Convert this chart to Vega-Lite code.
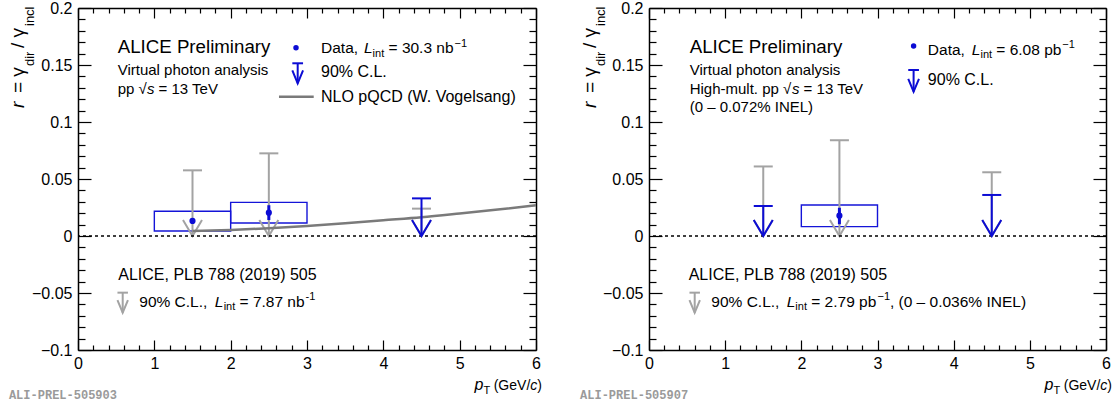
{
  "$schema": "https://vega.github.io/schema/vega-lite/v6.json",
  "padding": {"left": 8, "top": 0, "right": 0, "bottom": 0},
  "spacing": 38,
  "data": {"values": [{}]},
  "datasets": {
    "sys": [
      {"panel": "L", "ptlo": 1, "pthi": 2, "lo": 0.0044, "hi": 0.0217},
      {"panel": "L", "ptlo": 2, "pthi": 3, "lo": 0.0114, "hi": 0.0295},
      {"panel": "R", "ptlo": 2, "pthi": 3, "lo": 0.0082, "hi": 0.0272}
    ],
    "limits": [
      {"panel": "L", "src": "pub", "pt": 1.5, "ul": 0.0576},
      {"panel": "L", "src": "pub", "pt": 2.5, "ul": 0.0725},
      {"panel": "L", "src": "pub", "pt": 4.5, "ul": 0.024},
      {"panel": "L", "src": "new", "pt": 4.5, "ul": 0.033},
      {"panel": "R", "src": "pub", "pt": 1.5, "ul": 0.061},
      {"panel": "R", "src": "pub", "pt": 2.5, "ul": 0.084},
      {"panel": "R", "src": "pub", "pt": 4.5, "ul": 0.0559},
      {"panel": "R", "src": "new", "pt": 1.5, "ul": 0.0263},
      {"panel": "R", "src": "new", "pt": 4.5, "ul": 0.036}
    ],
    "points": [
      {"panel": "L", "pt": 1.5, "r": 0.0132, "lo": null, "hi": null},
      {"panel": "L", "pt": 2.5, "r": 0.0205, "lo": 0.014, "hi": 0.027},
      {"panel": "R", "pt": 2.5, "r": 0.0178, "lo": 0.0103, "hi": 0.0248}
    ],
    "nlo": [
      {"pt": 1.5, "r": 0.0043}, {"pt": 2.0, "r": 0.0053}, {"pt": 2.5, "r": 0.0068},
      {"pt": 3.0, "r": 0.0088}, {"pt": 3.5, "r": 0.0112}, {"pt": 4.0, "r": 0.0138},
      {"pt": 4.5, "r": 0.0164}, {"pt": 5.0, "r": 0.0197}, {"pt": 5.5, "r": 0.0232},
      {"pt": 6.0, "r": 0.027}
    ]
  },
  "hconcat": [
    {
      "width": 458, "height": 342,
      "resolve": {"axis": {"x": "independent", "y": "independent"}},
      "layer": [
        {
          "data": {"name": "sys"},
          "transform": [{"filter": "datum.panel === 'L'"}],
          "mark": {"type": "rect", "filled": false, "color": "#1414d8", "strokeWidth": 1.4},
          "encoding": {
            "x": {"field": "ptlo", "type": "quantitative", "scale": {"domain": [0, 6], "nice": false, "zero": false},
              "axis": {"orient": "top", "values": [0,1,2,3,4,5,6], "labels": false, "tickSize": -10, "domain": true}},
            "x2": {"field": "pthi"},
            "y": {"field": "lo", "type": "quantitative", "scale": {"domain": [-0.1, 0.2], "nice": false, "zero": false},
              "axis": {"orient": "right", "values": [-0.1,-0.05,0,0.05,0.1,0.15,0.2], "labels": false, "tickSize": -13, "domain": true}},
            "y2": {"field": "hi"}
          }
        },
        {
          "data": {"name": "limits"},
          "transform": [{"filter": "datum.panel === 'L' && datum.src === 'pub'"}],
          "mark": {"type": "rule", "color": "#a3a3a3", "strokeWidth": 2},
          "encoding": {
            "x": {"field": "pt", "type": "quantitative",
              "axis": {"orient": "bottom", "values": [0,1,2,3,4,5,6], "format": "d", "tickSize": -10, "labelPadding": 15, "domain": true}},
            "y": {"field": "ul", "type": "quantitative",
              "axis": {"orient": "left", "values": [-0.1,-0.05,0,0.05,0.1,0.15,0.2], "format": ".2~f", "tickSize": -13, "labelPadding": 19, "domain": true}},
            "y2": {"datum": 0}
          }
        },
        {
          "data": {"name": "limits"},
          "transform": [{"filter": "datum.panel === 'L' && datum.src === 'pub'"}],
          "mark": {"type": "point", "shape": "stroke", "size": 361, "color": "#a3a3a3", "strokeWidth": 2, "opacity": 1},
          "encoding": {
            "x": {"field": "pt", "type": "quantitative",
              "axis": {"orient": "bottom", "values": [0.2,0.4,0.6,0.8,1.2,1.4,1.6,1.8,2.2,2.4,2.6,2.8,3.2,3.4,3.6,3.8,4.2,4.4,4.6,4.8,5.2,5.4,5.6,5.8], "labels": false, "tickSize": -5, "domain": false}},
            "y": {"field": "ul", "type": "quantitative",
              "axis": {"orient": "left", "values": [-0.09,-0.08,-0.07,-0.06,-0.04,-0.03,-0.02,-0.01,0.01,0.02,0.03,0.04,0.06,0.07,0.08,0.09,0.11,0.12,0.13,0.14,0.16,0.17,0.18,0.19], "labels": false, "tickSize": -7, "domain": false}}
          }
        },
        {
          "data": {"name": "limits"},
          "transform": [{"filter": "datum.panel === 'L' && datum.src === 'pub'"}],
          "mark": {"type": "point", "shape": "M-1,-1.68L0,0L1,-1.68", "size": 361, "filled": false, "color": "#a3a3a3", "strokeWidth": 2, "opacity": 1},
          "encoding": {
            "x": {"field": "pt", "type": "quantitative",
              "axis": {"orient": "top", "values": [0.2,0.4,0.6,0.8,1.2,1.4,1.6,1.8,2.2,2.4,2.6,2.8,3.2,3.4,3.6,3.8,4.2,4.4,4.6,4.8,5.2,5.4,5.6,5.8], "labels": false, "tickSize": -5, "domain": false}},
            "y": {"datum": 0,
              "axis": {"orient": "right", "values": [-0.09,-0.08,-0.07,-0.06,-0.04,-0.03,-0.02,-0.01,0.01,0.02,0.03,0.04,0.06,0.07,0.08,0.09,0.11,0.12,0.13,0.14,0.16,0.17,0.18,0.19], "labels": false, "tickSize": -7, "domain": false}}
          }
        },
        {
          "data": {"name": "nlo"},
          "mark": {"type": "line", "color": "#7a7a7a", "strokeWidth": 2.5, "interpolate": "monotone"},
          "encoding": {"x": {"field": "pt", "type": "quantitative"}, "y": {"field": "r", "type": "quantitative"}}
        },
        {
          "mark": {"type": "rule", "color": "#000", "strokeWidth": 1.5, "strokeDash": [3, 3]},
          "encoding": {"y": {"datum": 0}}
        },
        {
          "data": {"name": "limits"},
          "transform": [{"filter": "datum.panel === 'L' && datum.src === 'new'"}],
          "mark": {"type": "rule", "color": "#0c0cd4", "strokeWidth": 2},
          "encoding": {"x": {"field": "pt", "type": "quantitative"}, "y": {"field": "ul", "type": "quantitative"}, "y2": {"datum": 0}}
        },
        {
          "data": {"name": "limits"},
          "transform": [{"filter": "datum.panel === 'L' && datum.src === 'new'"}],
          "mark": {"type": "point", "shape": "stroke", "size": 361, "color": "#0c0cd4", "strokeWidth": 2, "opacity": 1},
          "encoding": {"x": {"field": "pt", "type": "quantitative"}, "y": {"field": "ul", "type": "quantitative"}}
        },
        {
          "data": {"name": "limits"},
          "transform": [{"filter": "datum.panel === 'L' && datum.src === 'new'"}],
          "mark": {"type": "point", "shape": "M-1,-1.68L0,0L1,-1.68", "size": 361, "filled": false, "color": "#0c0cd4", "strokeWidth": 2, "opacity": 1},
          "encoding": {"x": {"field": "pt", "type": "quantitative"}, "y": {"datum": 0}}
        },
        {
          "data": {"name": "points"},
          "transform": [{"filter": "datum.panel === 'L' && datum.lo != null"}],
          "mark": {"type": "rule", "color": "#0c0cd4", "strokeWidth": 3},
          "encoding": {"x": {"field": "pt", "type": "quantitative"}, "y": {"field": "lo", "type": "quantitative"}, "y2": {"field": "hi"}}
        },
        {
          "data": {"name": "points"},
          "transform": [{"filter": "datum.panel === 'L'"}],
          "mark": {"type": "point", "shape": "circle", "filled": true, "size": 38, "color": "#0c0cd4", "opacity": 1},
          "encoding": {"x": {"field": "pt", "type": "quantitative"}, "y": {"field": "r", "type": "quantitative"}}
        },
        {"mark": {"type": "text", "text": "ALICE Preliminary", "fontSize": 18.7}, "encoding": {"x": {"datum": 0.52}, "y": {"datum": 0.1608}}},
        {"mark": {"type": "text", "text": "Virtual photon analysis", "fontSize": 15}, "encoding": {"x": {"datum": 0.52}, "y": {"datum": 0.1412}}},
        {"mark": {"type": "text", "text": "pp √", "fontSize": 15}, "encoding": {"x": {"datum": 0.52}, "y": {"datum": 0.1243}}},
        {"mark": {"type": "text", "text": "s", "fontSize": 15, "fontStyle": "italic"}, "encoding": {"x": {"datum": 0.904}, "y": {"datum": 0.1243}}},
        {"mark": {"type": "text", "text": "= 13 TeV", "fontSize": 15}, "encoding": {"x": {"datum": 1.055}, "y": {"datum": 0.1243}}},
        {"mark": {"type": "point", "shape": "circle", "filled": true, "size": 30, "color": "#0c0cd4", "opacity": 1}, "encoding": {"x": {"datum": 2.856}, "y": {"datum": 0.1652}}},
        {"mark": {"type": "text", "text": "Data,", "fontSize": 15.5}, "encoding": {"x": {"datum": 3.1835}, "y": {"datum": 0.1603}}},
        {"mark": {"type": "text", "text": "L", "fontSize": 15.5, "fontStyle": "italic"}, "encoding": {"x": {"datum": 3.747}, "y": {"datum": 0.1603}}},
        {"mark": {"type": "text", "text": "int", "fontSize": 11}, "encoding": {"x": {"datum": 3.859}, "y": {"datum": 0.1573}}},
        {"mark": {"type": "text", "text": "= 30.3 nb", "fontSize": 15.5}, "encoding": {"x": {"datum": 4.068}, "y": {"datum": 0.1603}}},
        {"mark": {"type": "text", "text": "−1", "fontSize": 11}, "encoding": {"x": {"datum": 4.933}, "y": {"datum": 0.1658}}},
        {"mark": {"type": "rule", "color": "#0c0cd4", "strokeWidth": 2}, "encoding": {"x": {"datum": 2.878}, "y": {"datum": 0.1515}, "y2": {"datum": 0.1339}}},
        {"mark": {"type": "point", "shape": "stroke", "size": 115, "color": "#0c0cd4", "strokeWidth": 2, "opacity": 1}, "encoding": {"x": {"datum": 2.878}, "y": {"datum": 0.1515}}},
        {"mark": {"type": "point", "shape": "M-1,-2.4L0,0L1,-2.4", "size": 115, "filled": false, "color": "#0c0cd4", "strokeWidth": 2, "opacity": 1}, "encoding": {"x": {"datum": 2.878}, "y": {"datum": 0.1339}}},
        {"mark": {"type": "text", "text": "90% C.L.", "fontSize": 16}, "encoding": {"x": {"datum": 3.1835}, "y": {"datum": 0.1397}}},
        {"mark": {"type": "rule", "color": "#7a7a7a", "strokeWidth": 2.5}, "encoding": {"x": {"datum": 2.633}, "x2": {"datum": 3.088}, "y": {"datum": 0.1222}}},
        {"mark": {"type": "text", "text": "NLO pQCD (W. Vogelsang)", "fontSize": 16}, "encoding": {"x": {"datum": 3.1835}, "y": {"datum": 0.1178}}},
        {"mark": {"type": "text", "text": "ALICE, PLB 788 (2019) 505", "fontSize": 16}, "encoding": {"x": {"datum": 0.528}, "y": {"datum": -0.0386}}},
        {"mark": {"type": "rule", "color": "#a3a3a3", "strokeWidth": 2}, "encoding": {"x": {"datum": 0.5856}, "y": {"datum": -0.0497}, "y2": {"datum": -0.0673}}},
        {"mark": {"type": "point", "shape": "stroke", "size": 110, "color": "#a3a3a3", "strokeWidth": 2, "opacity": 1}, "encoding": {"x": {"datum": 0.5856}, "y": {"datum": -0.0497}}},
        {"mark": {"type": "point", "shape": "M-1,-2.4L0,0L1,-2.4", "size": 110, "filled": false, "color": "#a3a3a3", "strokeWidth": 2, "opacity": 1}, "encoding": {"x": {"datum": 0.5856}, "y": {"datum": -0.0673}}},
        {"mark": {"type": "text", "text": "90% C.L.,", "fontSize": 15.5}, "encoding": {"x": {"datum": 0.803}, "y": {"datum": -0.062}}},
        {"mark": {"type": "text", "text": "L", "fontSize": 15.5, "fontStyle": "italic"}, "encoding": {"x": {"datum": 1.792}, "y": {"datum": -0.062}}},
        {"mark": {"type": "text", "text": "int", "fontSize": 11}, "encoding": {"x": {"datum": 1.908}, "y": {"datum": -0.0649}}},
        {"mark": {"type": "text", "text": "= 7.87 nb", "fontSize": 15.5}, "encoding": {"x": {"datum": 2.116}, "y": {"datum": -0.062}}},
        {"mark": {"type": "text", "text": "-1", "fontSize": 11}, "encoding": {"x": {"datum": 2.98}, "y": {"datum": -0.0561}}},
        {"mark": {"type": "text", "text": "ALI-PREL-505903", "fontSize": 12, "font": "Liberation Mono", "fontWeight": "bold", "color": "#9a9a9a"}, "encoding": {"x": {"datum": -0.905}, "y": {"datum": -0.143}}},
        {"mark": {"type": "text", "text": "r", "fontSize": 19, "fontStyle": "italic", "angle": 270}, "encoding": {"x": {"datum": -0.701}, "y": {"datum": 0.1123}}},
        {"mark": {"type": "text", "text": "= γ", "fontSize": 19, "angle": 270}, "encoding": {"x": {"datum": -0.701}, "y": {"datum": 0.1254}}},
        {"mark": {"type": "text", "text": "dir", "fontSize": 13, "angle": 270}, "encoding": {"x": {"datum": -0.5764}, "y": {"datum": 0.1491}}},
        {"mark": {"type": "text", "text": "/ γ", "fontSize": 19, "angle": 270}, "encoding": {"x": {"datum": -0.701}, "y": {"datum": 0.1649}}},
        {"mark": {"type": "text", "text": "incl", "fontSize": 13, "angle": 270}, "encoding": {"x": {"datum": -0.5764}, "y": {"datum": 0.1842}}},
        {"mark": {"type": "text", "text": "p", "fontSize": 16, "fontStyle": "italic"}, "encoding": {"x": {"datum": 5.194}, "y": {"datum": -0.1351}}},
        {"mark": {"type": "text", "text": "T", "fontSize": 11}, "encoding": {"x": {"datum": 5.312}, "y": {"datum": -0.1386}}},
        {"mark": {"type": "text", "text": "(GeV/", "fontSize": 14}, "encoding": {"x": {"datum": 5.446}, "y": {"datum": -0.1351}}},
        {"mark": {"type": "text", "text": "c", "fontSize": 14, "fontStyle": "italic"}, "encoding": {"x": {"datum": 5.926}, "y": {"datum": -0.1351}}},
        {"mark": {"type": "text", "text": ")", "fontSize": 14}, "encoding": {"x": {"datum": 6.017}, "y": {"datum": -0.1351}}}
      ]
    },
    {
      "width": 457, "height": 342,
      "resolve": {"axis": {"x": "independent", "y": "independent"}},
      "layer": [
        {
          "data": {"name": "sys"},
          "transform": [{"filter": "datum.panel === 'R'"}],
          "mark": {"type": "rect", "filled": false, "color": "#1414d8", "strokeWidth": 1.4},
          "encoding": {
            "x": {"field": "ptlo", "type": "quantitative", "scale": {"domain": [0, 6], "nice": false, "zero": false},
              "axis": {"orient": "top", "values": [0,1,2,3,4,5,6], "labels": false, "tickSize": -10, "domain": true}},
            "x2": {"field": "pthi"},
            "y": {"field": "lo", "type": "quantitative", "scale": {"domain": [-0.1, 0.2], "nice": false, "zero": false},
              "axis": {"orient": "right", "values": [-0.1,-0.05,0,0.05,0.1,0.15,0.2], "labels": false, "tickSize": -13, "domain": true}},
            "y2": {"field": "hi"}
          }
        },
        {
          "data": {"name": "limits"},
          "transform": [{"filter": "datum.panel === 'R' && datum.src === 'pub'"}],
          "mark": {"type": "rule", "color": "#a3a3a3", "strokeWidth": 2},
          "encoding": {
            "x": {"field": "pt", "type": "quantitative",
              "axis": {"orient": "bottom", "values": [0,1,2,3,4,5,6], "format": "d", "tickSize": -10, "labelPadding": 15, "domain": true}},
            "y": {"field": "ul", "type": "quantitative",
              "axis": {"orient": "left", "values": [-0.1,-0.05,0,0.05,0.1,0.15,0.2], "format": ".2~f", "tickSize": -13, "labelPadding": 19, "domain": true}},
            "y2": {"datum": 0}
          }
        },
        {
          "data": {"name": "limits"},
          "transform": [{"filter": "datum.panel === 'R' && datum.src === 'pub'"}],
          "mark": {"type": "point", "shape": "stroke", "size": 361, "color": "#a3a3a3", "strokeWidth": 2, "opacity": 1},
          "encoding": {
            "x": {"field": "pt", "type": "quantitative",
              "axis": {"orient": "bottom", "values": [0.2,0.4,0.6,0.8,1.2,1.4,1.6,1.8,2.2,2.4,2.6,2.8,3.2,3.4,3.6,3.8,4.2,4.4,4.6,4.8,5.2,5.4,5.6,5.8], "labels": false, "tickSize": -5, "domain": false}},
            "y": {"field": "ul", "type": "quantitative",
              "axis": {"orient": "left", "values": [-0.09,-0.08,-0.07,-0.06,-0.04,-0.03,-0.02,-0.01,0.01,0.02,0.03,0.04,0.06,0.07,0.08,0.09,0.11,0.12,0.13,0.14,0.16,0.17,0.18,0.19], "labels": false, "tickSize": -7, "domain": false}}
          }
        },
        {
          "data": {"name": "limits"},
          "transform": [{"filter": "datum.panel === 'R' && datum.src === 'pub'"}],
          "mark": {"type": "point", "shape": "M-1,-1.68L0,0L1,-1.68", "size": 361, "filled": false, "color": "#a3a3a3", "strokeWidth": 2, "opacity": 1},
          "encoding": {
            "x": {"field": "pt", "type": "quantitative",
              "axis": {"orient": "top", "values": [0.2,0.4,0.6,0.8,1.2,1.4,1.6,1.8,2.2,2.4,2.6,2.8,3.2,3.4,3.6,3.8,4.2,4.4,4.6,4.8,5.2,5.4,5.6,5.8], "labels": false, "tickSize": -5, "domain": false}},
            "y": {"datum": 0,
              "axis": {"orient": "right", "values": [-0.09,-0.08,-0.07,-0.06,-0.04,-0.03,-0.02,-0.01,0.01,0.02,0.03,0.04,0.06,0.07,0.08,0.09,0.11,0.12,0.13,0.14,0.16,0.17,0.18,0.19], "labels": false, "tickSize": -7, "domain": false}}
          }
        },
        {
          "mark": {"type": "rule", "color": "#000", "strokeWidth": 1.5, "strokeDash": [3, 3]},
          "encoding": {"y": {"datum": 0}}
        },
        {
          "data": {"name": "limits"},
          "transform": [{"filter": "datum.panel === 'R' && datum.src === 'new'"}],
          "mark": {"type": "rule", "color": "#0c0cd4", "strokeWidth": 2},
          "encoding": {"x": {"field": "pt", "type": "quantitative"}, "y": {"field": "ul", "type": "quantitative"}, "y2": {"datum": 0}}
        },
        {
          "data": {"name": "limits"},
          "transform": [{"filter": "datum.panel === 'R' && datum.src === 'new'"}],
          "mark": {"type": "point", "shape": "stroke", "size": 361, "color": "#0c0cd4", "strokeWidth": 2, "opacity": 1},
          "encoding": {"x": {"field": "pt", "type": "quantitative"}, "y": {"field": "ul", "type": "quantitative"}}
        },
        {
          "data": {"name": "limits"},
          "transform": [{"filter": "datum.panel === 'R' && datum.src === 'new'"}],
          "mark": {"type": "point", "shape": "M-1,-1.68L0,0L1,-1.68", "size": 361, "filled": false, "color": "#0c0cd4", "strokeWidth": 2, "opacity": 1},
          "encoding": {"x": {"field": "pt", "type": "quantitative"}, "y": {"datum": 0}}
        },
        {
          "data": {"name": "points"},
          "transform": [{"filter": "datum.panel === 'R' && datum.lo != null"}],
          "mark": {"type": "rule", "color": "#0c0cd4", "strokeWidth": 3},
          "encoding": {"x": {"field": "pt", "type": "quantitative"}, "y": {"field": "lo", "type": "quantitative"}, "y2": {"field": "hi"}}
        },
        {
          "data": {"name": "points"},
          "transform": [{"filter": "datum.panel === 'R'"}],
          "mark": {"type": "point", "shape": "circle", "filled": true, "size": 38, "color": "#0c0cd4", "opacity": 1},
          "encoding": {"x": {"field": "pt", "type": "quantitative"}, "y": {"field": "r", "type": "quantitative"}}
        },
        {"mark": {"type": "text", "text": "ALICE Preliminary", "fontSize": 18.7}, "encoding": {"x": {"datum": 0.534}, "y": {"datum": 0.1608}}},
        {"mark": {"type": "text", "text": "Virtual photon analysis", "fontSize": 15}, "encoding": {"x": {"datum": 0.534}, "y": {"datum": 0.1412}}},
        {"mark": {"type": "text", "text": "High-mult. pp √", "fontSize": 15}, "encoding": {"x": {"datum": 0.534}, "y": {"datum": 0.1243}}},
        {"mark": {"type": "text", "text": "s", "fontSize": 15, "fontStyle": "italic"}, "encoding": {"x": {"datum": 1.877}, "y": {"datum": 0.1243}}},
        {"mark": {"type": "text", "text": "= 13 TeV", "fontSize": 15}, "encoding": {"x": {"datum": 2.03}, "y": {"datum": 0.1243}}},
        {"mark": {"type": "text", "text": "(0 – 0.072% INEL)", "fontSize": 15}, "encoding": {"x": {"datum": 0.534}, "y": {"datum": 0.1085}}},
        {"mark": {"type": "point", "shape": "circle", "filled": true, "size": 30, "color": "#0c0cd4", "opacity": 1}, "encoding": {"x": {"datum": 3.474}, "y": {"datum": 0.1667}}},
        {"mark": {"type": "text", "text": "Data,", "fontSize": 15.5}, "encoding": {"x": {"datum": 3.661}, "y": {"datum": 0.1592}}},
        {"mark": {"type": "text", "text": "L", "fontSize": 15.5, "fontStyle": "italic"}, "encoding": {"x": {"datum": 4.239}, "y": {"datum": 0.1592}}},
        {"mark": {"type": "text", "text": "int", "fontSize": 11}, "encoding": {"x": {"datum": 4.352}, "y": {"datum": 0.1562}}},
        {"mark": {"type": "text", "text": "= 6.08 pb", "fontSize": 15.5}, "encoding": {"x": {"datum": 4.56}, "y": {"datum": 0.1592}}},
        {"mark": {"type": "text", "text": "−1", "fontSize": 11}, "encoding": {"x": {"datum": 5.427}, "y": {"datum": 0.1647}}},
        {"mark": {"type": "rule", "color": "#0c0cd4", "strokeWidth": 2}, "encoding": {"x": {"datum": 3.474}, "y": {"datum": 0.1456}, "y2": {"datum": 0.1266}}},
        {"mark": {"type": "point", "shape": "stroke", "size": 115, "color": "#0c0cd4", "strokeWidth": 2, "opacity": 1}, "encoding": {"x": {"datum": 3.474}, "y": {"datum": 0.1456}}},
        {"mark": {"type": "point", "shape": "M-1,-2.4L0,0L1,-2.4", "size": 115, "filled": false, "color": "#0c0cd4", "strokeWidth": 2, "opacity": 1}, "encoding": {"x": {"datum": 3.474}, "y": {"datum": 0.1266}}},
        {"mark": {"type": "text", "text": "90% C.L.", "fontSize": 16}, "encoding": {"x": {"datum": 3.661}, "y": {"datum": 0.1325}}},
        {"mark": {"type": "text", "text": "ALICE, PLB 788 (2019) 505", "fontSize": 16}, "encoding": {"x": {"datum": 0.521}, "y": {"datum": -0.0386}}},
        {"mark": {"type": "rule", "color": "#a3a3a3", "strokeWidth": 2}, "encoding": {"x": {"datum": 0.6}, "y": {"datum": -0.0497}, "y2": {"datum": -0.0673}}},
        {"mark": {"type": "point", "shape": "stroke", "size": 110, "color": "#a3a3a3", "strokeWidth": 2, "opacity": 1}, "encoding": {"x": {"datum": 0.6}, "y": {"datum": -0.0497}}},
        {"mark": {"type": "point", "shape": "M-1,-2.4L0,0L1,-2.4", "size": 110, "filled": false, "color": "#a3a3a3", "strokeWidth": 2, "opacity": 1}, "encoding": {"x": {"datum": 0.6}, "y": {"datum": -0.0673}}},
        {"mark": {"type": "text", "text": "90% C.L.,", "fontSize": 15.5}, "encoding": {"x": {"datum": 0.818}, "y": {"datum": -0.062}}},
        {"mark": {"type": "text", "text": "L", "fontSize": 15.5, "fontStyle": "italic"}, "encoding": {"x": {"datum": 1.808}, "y": {"datum": -0.062}}},
        {"mark": {"type": "text", "text": "int", "fontSize": 11}, "encoding": {"x": {"datum": 1.921}, "y": {"datum": -0.0649}}},
        {"mark": {"type": "text", "text": "= 2.79 pb", "fontSize": 15.5}, "encoding": {"x": {"datum": 2.13}, "y": {"datum": -0.062}}},
        {"mark": {"type": "text", "text": "−1", "fontSize": 11}, "encoding": {"x": {"datum": 3.0}, "y": {"datum": -0.0561}}},
        {"mark": {"type": "text", "text": ", (0 – 0.036% INEL)", "fontSize": 15.5}, "encoding": {"x": {"datum": 3.163}, "y": {"datum": -0.062}}},
        {"mark": {"type": "text", "text": "ALI-PREL-505907", "fontSize": 12, "font": "Liberation Mono", "fontWeight": "bold", "color": "#9a9a9a"}, "encoding": {"x": {"datum": -0.905}, "y": {"datum": -0.143}}},
        {"mark": {"type": "text", "text": "r", "fontSize": 19, "fontStyle": "italic", "angle": 270}, "encoding": {"x": {"datum": -0.702}, "y": {"datum": 0.1123}}},
        {"mark": {"type": "text", "text": "= γ", "fontSize": 19, "angle": 270}, "encoding": {"x": {"datum": -0.702}, "y": {"datum": 0.1254}}},
        {"mark": {"type": "text", "text": "dir", "fontSize": 13, "angle": 270}, "encoding": {"x": {"datum": -0.577}, "y": {"datum": 0.1491}}},
        {"mark": {"type": "text", "text": "/ γ", "fontSize": 19, "angle": 270}, "encoding": {"x": {"datum": -0.702}, "y": {"datum": 0.1649}}},
        {"mark": {"type": "text", "text": "incl", "fontSize": 13, "angle": 270}, "encoding": {"x": {"datum": -0.577}, "y": {"datum": 0.1842}}},
        {"mark": {"type": "text", "text": "p", "fontSize": 16, "fontStyle": "italic"}, "encoding": {"x": {"datum": 5.193}, "y": {"datum": -0.1351}}},
        {"mark": {"type": "text", "text": "T", "fontSize": 11}, "encoding": {"x": {"datum": 5.311}, "y": {"datum": -0.1386}}},
        {"mark": {"type": "text", "text": "(GeV/", "fontSize": 14}, "encoding": {"x": {"datum": 5.445}, "y": {"datum": -0.1351}}},
        {"mark": {"type": "text", "text": "c", "fontSize": 14, "fontStyle": "italic"}, "encoding": {"x": {"datum": 5.925}, "y": {"datum": -0.1351}}},
        {"mark": {"type": "text", "text": ")", "fontSize": 14}, "encoding": {"x": {"datum": 6.016}, "y": {"datum": -0.1351}}}
      ]
    }
  ],
  "config": {
    "view": {"stroke": null},
    "font": "Liberation Sans",
    "axis": {
      "disable": true, "title": null, "grid": false,
      "domainColor": "#000", "domainWidth": 1.5, "tickColor": "#000", "tickWidth": 1.2,
      "labelFontSize": 16, "labelColor": "#000", "labelFont": "Liberation Sans",
      "labelOverlap": false, "labelFlush": false, "labelBound": false
    },
    "text": {"font": "Liberation Sans", "align": "left", "baseline": "alphabetic", "color": "#000"}
  }
}
